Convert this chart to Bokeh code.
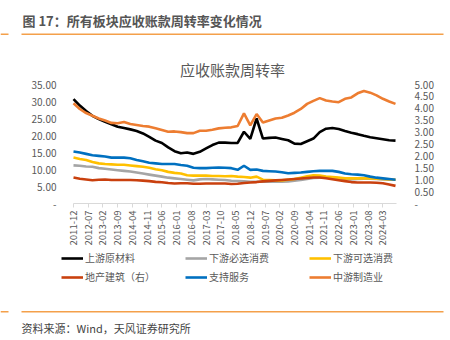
import math
from bokeh.plotting import figure
from bokeh.models import (LinearAxis, Range1d, FixedTicker, CustomJSTickFormatter,
                          Legend, LegendItem, Label, BoxAnnotation)
from bokeh.embed import file_html
from bokeh.resources import INLINE

# ---------------- data ----------------
dates = ["2011-12",
         "2012-03", "2012-06", "2012-09", "2012-12",
         "2013-03", "2013-06", "2013-09", "2013-12",
         "2014-03", "2014-06", "2014-09", "2014-12",
         "2015-03", "2015-06", "2015-09", "2015-12",
         "2016-03", "2016-06", "2016-09", "2016-12",
         "2017-03", "2017-06", "2017-09", "2017-12",
         "2018-03", "2018-06", "2018-09", "2018-12",
         "2019-03", "2019-06", "2019-09", "2019-12",
         "2020-03", "2020-06", "2020-09", "2020-12",
         "2021-03", "2021-06", "2021-09", "2021-12",
         "2022-03", "2022-06", "2022-09", "2022-12",
         "2023-03", "2023-06", "2023-09", "2023-12",
         "2024-03", "2024-06", "2024-09"]

upstream = [30.7, 28.8, 27.2, 25.8, 24.8, 24.0, 23.3, 22.6, 22.2, 21.8, 21.3, 20.6, 19.6,
            18.5, 17.8, 16.5, 15.4, 14.8, 15.0, 14.6, 15.2, 16.2, 17.2, 17.9, 17.9, 17.8,
            17.8, 21.1, 19.0, 25.0, 19.1, 19.3, 19.4, 19.0, 18.6, 17.6, 17.5, 18.3, 19.1,
            21.0, 22.0, 22.2, 21.9, 21.3, 20.8, 20.4, 19.9, 19.5, 19.2, 18.9, 18.6, 18.5]

staples = [11.2, 11.1, 10.9, 10.8, 10.4, 10.2, 10.0, 9.8, 9.6, 9.4, 9.1, 8.8, 8.5,
           8.2, 7.9, 7.6, 7.4, 7.2, 7.0, 6.8, 7.1, 7.2, 7.1, 7.0, 6.9, 6.7,
           6.6, 6.5, 6.4, 6.4, 6.4, 6.4, 6.4, 6.4, 6.5, 6.7, 6.9, 7.2, 7.5,
           7.6, 7.6, 7.6, 7.4, 7.2, 7.1, 7.2, 7.3, 7.3, 7.2, 7.1, 7.0, 7.0]

discretionary = [13.5, 13.1, 12.8, 12.2, 11.8, 11.6, 11.5, 11.4, 11.4, 11.2, 11.0, 10.8, 10.5,
                 10.1, 9.8, 9.3, 9.0, 8.8, 8.3, 8.2, 8.2, 8.2, 8.1, 8.1, 8.0, 8.1,
                 7.9, 7.8, 7.6, 7.9, 7.0, 6.9, 6.8, 6.8, 7.0, 7.2, 7.6, 8.0, 8.3,
                 8.2, 7.9, 7.8, 7.6, 7.4, 7.4, 7.4, 7.4, 7.4, 7.3, 7.2, 7.1, 7.0]

property_right = [1.09, 1.04, 1.01, 0.98, 1.00, 1.01, 0.99, 0.99, 0.99, 0.99, 0.98, 0.96, 0.94,
                  0.91, 0.89, 0.86, 0.84, 0.85, 0.85, 0.83, 0.83, 0.84, 0.84, 0.84, 0.84, 0.82,
                  0.83, 0.86, 0.88, 0.90, 0.93, 0.95, 0.97, 0.99, 1.01, 1.03, 1.05, 1.07, 1.09,
                  1.09, 1.06, 1.02, 0.98, 0.94, 0.90, 0.88, 0.88, 0.88, 0.87, 0.85, 0.80, 0.74]

services = [15.3, 15.0, 14.6, 14.2, 14.0, 13.8, 13.5, 13.5, 13.5, 13.3, 12.8, 12.4, 12.0,
            11.8, 11.6, 11.6, 11.6, 11.3, 11.1, 10.5, 10.4, 10.4, 10.5, 10.6, 10.5, 10.4,
            9.9, 11.1, 9.9, 10.0, 9.6, 9.5, 9.4, 9.2, 8.9, 9.0, 9.1, 9.3, 9.5,
            9.6, 9.6, 9.6, 9.3, 8.8, 8.6, 8.5, 8.3, 7.9, 7.6, 7.4, 7.2, 7.0]

midstream = [29.5, 27.8, 26.6, 25.8, 25.0, 24.4, 23.7, 23.6, 24.0, 23.4, 23.1, 22.8, 22.6,
             22.1, 21.6, 21.1, 21.2, 21.0, 20.7, 20.7, 21.4, 21.4, 21.7, 22.1, 22.3, 22.4,
             22.8, 26.5, 23.0, 26.3, 23.8, 24.4, 25.0, 25.2, 25.9, 26.7, 27.8, 29.3, 30.2,
             31.0, 30.3, 30.0, 29.8, 30.8, 31.2, 32.4, 33.1, 32.6, 31.8, 30.8, 30.0, 29.3]

series_names = ["上游原材料", "下游必选消费", "下游可选消费", "地产建筑（右）", "支持服务", "中游制造业"]

xtick_labels = ["2011-12", "2012-07", "2013-02", "2013-09", "2014-04", "2014-11", "2015-06",
                "2016-01", "2016-08", "2017-03", "2017-10", "2018-05", "2018-12", "2019-07",
                "2020-02", "2020-09", "2021-04", "2021-11", "2022-06", "2023-01", "2023-08",
                "2024-03"]

left_ticks = [0, 5, 10, 15, 20, 25, 30, 35]
right_ticks = [0, 0.5, 1.0, 1.5, 2.0, 2.5, 3.0, 3.5, 4.0, 4.5, 5.0]

header_text = "图 17：所有板块应收账款周转率变化情况"
chart_title = "应收账款周转率"
source_text = "资料来源：Wind，天风证券研究所"


def month_index(s):
    y, m = map(int, s.split("-"))
    return (y - 2011) * 12 + (m - 12)


x = [month_index(d) for d in dates]
xtick_pos = [month_index(d) for d in xtick_labels]

FONT = "Noto Sans CJK SC"
GREY_TXT = "#595959"
RULE = "#F4A04A"

# ---------------- geometry (canvas pixels) ----------------
W, H = 450, 340
PLOT_L, PLOT_R = 73, 395      # x pixels of first / last month
PLOT_T, PLOT_B = 84, 203      # y pixels of top (35) / zero
X_MAX = 153
Y_MAX, Y2_MAX = 35, 5

kx = (PLOT_R - PLOT_L) / X_MAX
ky = (PLOT_B - PLOT_T) / Y_MAX
x_start = -PLOT_L / kx
x_end = X_MAX + (W - PLOT_R) / kx
y_start = -(H - PLOT_B) / ky
y_end = Y_MAX + PLOT_T / ky
ratio = Y_MAX / Y2_MAX

p = figure(width=W, height=H, output_backend="svg", toolbar_location=None, title=None,
           x_range=Range1d(x_start, x_end), y_range=Range1d(y_start, y_end),
           min_border=0, outline_line_color=None, background_fill_color="white",
           border_fill_color="white")
p.extra_y_ranges = {"right": Range1d(y_start / ratio, y_end / ratio)}
p.xgrid.visible = False
p.ygrid.visible = False

fmt = CustomJSTickFormatter(code="return tick == 0 ? '-' : tick.toFixed(2);")

ya = p.yaxis[0]
ya.fixed_location = 0
ya.ticker = FixedTicker(ticks=left_ticks)
ya.formatter = fmt
ya.axis_line_color = None
ya.major_tick_line_color = None
ya.minor_tick_line_color = None
ya.major_label_standoff = 11
ya.major_label_text_font = FONT
ya.major_label_text_font_size = "10px"
ya.major_label_text_color = GREY_TXT

ra = LinearAxis(y_range_name="right", ticker=FixedTicker(ticks=right_ticks), formatter=fmt,
                fixed_location=X_MAX)
ra.axis_line_color = None
ra.major_tick_line_color = None
ra.minor_tick_line_color = None
ra.major_label_standoff = 13
ra.major_label_text_font = FONT
ra.major_label_text_font_size = "10px"
ra.major_label_text_color = GREY_TXT
p.add_layout(ra, "right")

xa = p.xaxis[0]
xa.fixed_location = 0
xa.bounds = (0, X_MAX + 0.5)
xa.ticker = FixedTicker(ticks=xtick_pos)
xa.major_label_overrides = {pos: lab for pos, lab in zip(xtick_pos, xtick_labels)}
xa.major_label_orientation = math.pi / 2
xa.axis_line_color = "#D9D9D9"
xa.major_tick_line_color = "#D9D9D9"
xa.major_tick_in = 0
xa.major_tick_out = 4
xa.minor_tick_line_color = None
xa.major_label_standoff = 3
xa.major_label_text_font = FONT
xa.major_label_text_font_size = "9.5px"
xa.major_label_text_color = GREY_TXT

colors = ["#000000", "#A5A5A5", "#FFC000", "#C9400E", "#0070C0", "#ED7D31"]
data = [upstream, staples, discretionary, property_right, services, midstream]
draw_order = [1, 2, 3, 4, 0, 5]
renderers = {}
for i in draw_order:
    kw = {}
    if i == 3:
        kw["y_range_name"] = "right"
    renderers[i] = p.line(x, data[i], line_color=colors[i], line_width=2.6, **kw)

legend = Legend(items=[LegendItem(label=series_names[i], renderers=[renderers[i]]) for i in range(6)],
                orientation="horizontal", ncols=3,
                location=(61, H - 284), border_line_color=None, background_fill_alpha=0,
                label_text_font=FONT, label_text_font_size="10px", label_text_color=GREY_TXT,
                glyph_width=22, glyph_height=14, label_height=14, label_standoff=2,
                label_width=96, spacing=4, padding=0, margin=0)
p.add_layout(legend, "center")

# ---------------- texts and rules ----------------
p.add_layout(Label(x=22, y=19.5, x_units="canvas", y_units="canvas",
                   text=header_text, text_font=FONT,
                   text_font_size="13px", text_font_style="bold", text_color="#555555",
                   text_baseline="middle", text_align="left"))
p.add_layout(Label(x=232, y=69, x_units="canvas", y_units="canvas",
                   text=chart_title, text_font=FONT,
                   text_font_size="15px", text_color=GREY_TXT,
                   text_baseline="middle", text_align="center"))
p.add_layout(Label(x=21, y=327, x_units="canvas", y_units="canvas",
                   text=source_text, text_font=FONT,
                   text_font_size="11px", text_color="#444444",
                   text_baseline="middle", text_align="left"))

for (l, r, t, b) in [(0, 8, 33, 34.4), (21, 443, 33, 34.4),
                     (0, 8, 310.5, 311.9), (21, 443, 310.5, 311.9)]:
    p.add_layout(BoxAnnotation(left=l, right=r, top=t, bottom=b,
                               left_units="canvas", right_units="canvas",
                               top_units="canvas", bottom_units="canvas",
                               fill_color=RULE, fill_alpha=1, line_color=None))

open("out.html", "w").write(file_html(p, INLINE))
